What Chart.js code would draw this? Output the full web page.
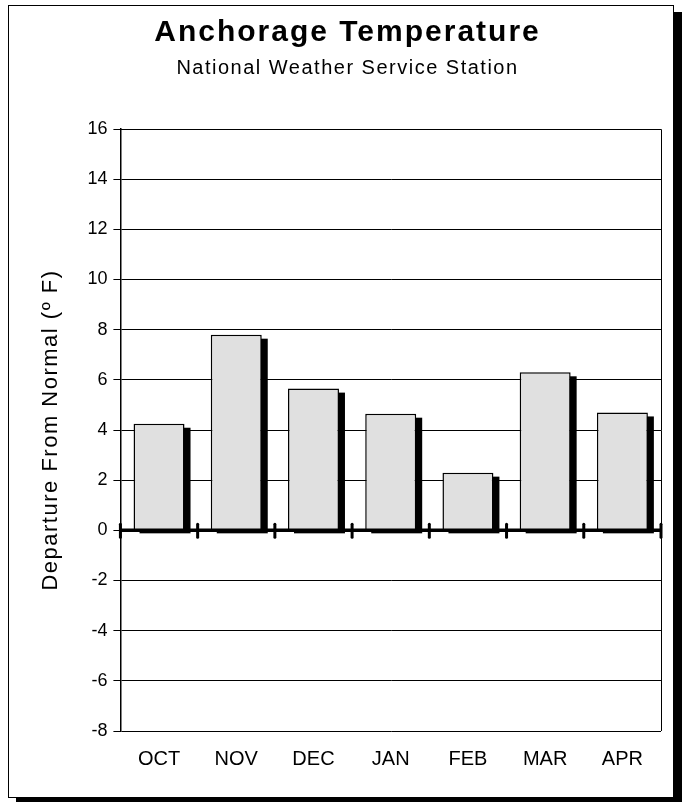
<!DOCTYPE html>
<html>
<head>
<meta charset="utf-8">
<script src="https://cdn.jsdelivr.net/npm/chart.js@4.4.1/dist/chart.umd.min.js"></script>
<style>
  html, body { margin: 0; padding: 0; background: #fff; }
  #frame {
    position: absolute; left: 8px; top: 5px;
    width: 664px; height: 791px;
    border: 1.5px solid #000;
    box-shadow: 8px 7px 0 #000;
    background: #fff;
  }
  #wrap { position: absolute; left: -8px; top: -5px; width: 686px; height: 802px; }
</style>
</head>
<body>
<div id="frame"><div id="wrap"><canvas id="tempChart"></canvas></div></div>
<script>
const months = ['OCT', 'NOV', 'DEC', 'JAN', 'FEB', 'MAR', 'APR'];
const departures = [4.25, 7.8, 5.65, 4.65, 2.3, 6.3, 4.7];
const yMin = -8;
const yMax = 16;
const yStep = 2;

const FONT = "'Liberation Sans', Arial, sans-serif";

// slightly wider letter spacing like the old Excel rendering (titles only)
function spaced(fn, spacing) {
    return function () {
        const c = this.ctx;
        c.save();
        c.letterSpacing = spacing;
        fn.apply(this, arguments);
        c.restore();
    };
}

// black drop shadow behind each bar, thick zero line with category ticks, plot box
const excelStyle = {
    id: 'excelStyle',
    afterLayout(chart) {
        chart.boxes.forEach(box => {
            if (box._spaced || !box.options || typeof box.options.text !== 'string' || box.axis) return;
            box.draw = spaced(box.draw, box.options.text === 'Anchorage Temperature' ? '2px' : '1.5px');
            box._spaced = true;
        });
        const y = chart.scales.y;
        if (y && !y._spaced) {
            y.drawTitle = spaced(y.drawTitle, '1.5px');
            y._spaced = true;
        }
    },
    beforeDatasetsDraw(chart) {
        const ctx = chart.ctx;
        const y = chart.scales.y;
        const zero = y.getPixelForValue(0);
        ctx.save();
        ctx.fillStyle = '#000';
        chart.getDatasetMeta(0).data.forEach(bar => {
            const half = bar.width / 2;
            ctx.fillRect(bar.x + half - 1, bar.y + 4, 7, zero - bar.y - 4);
            ctx.fillRect(bar.x - half + 6, zero - 1, bar.width, 4);
        });
        ctx.restore();
    },
    afterDatasetsDraw(chart) {
        const ctx = chart.ctx;
        const area = chart.chartArea;
        const x = chart.scales.x;
        const zero = chart.scales.y.getPixelForValue(0);
        ctx.save();
        ctx.strokeStyle = '#000';
        ctx.lineWidth = 1;
        ctx.beginPath();
        ctx.moveTo(area.left, area.top + 0.5);
        ctx.lineTo(area.right + 0.5, area.top + 0.5);
        ctx.lineTo(area.right + 0.5, area.bottom);
        ctx.stroke();
        ctx.lineWidth = 3.5;
        ctx.beginPath();
        ctx.moveTo(area.left, zero);
        ctx.lineTo(area.right, zero);
        ctx.stroke();
        ctx.lineCap = 'round';
        ctx.lineWidth = 3;
        for (let i = 0; i <= months.length; i++) {
            const px = x.getPixelForValue(i - 0.5);
            ctx.beginPath();
            ctx.moveTo(px, zero - 6);
            ctx.lineTo(px, zero + 7);
            ctx.stroke();
        }
        ctx.restore();
    }
};

const ctx = document.getElementById('tempChart').getContext('2d');
const tempChart = new Chart(ctx, {
    type: 'bar',
    data: {
        labels: months,
        datasets: [{
            label: 'Departure',
            data: departures,
            backgroundColor: '#e0e0e0',
            borderColor: '#000',
            borderWidth: 1.5,
            barPercentage: 0.66,
            categoryPercentage: 1.0
        }]
    },
    options: {
        responsive: true,
        maintainAspectRatio: false,
        animation: false,
        layout: { padding: { left: 33, right: 26, top: 10, bottom: 24 } },
        plugins: {
            legend: { display: false },
            tooltip: { enabled: false },
            title: {
                display: true,
                text: 'Anchorage Temperature',
                color: '#000',
                font: { family: FONT, size: 30, weight: 'bold' },
                padding: { top: 4, bottom: 5 }
            },
            subtitle: {
                display: true,
                text: 'National Weather Service Station',
                color: '#000',
                font: { family: FONT, size: 20 },
                padding: { top: 0, bottom: 49 }
            }
        },
        scales: {
            x: {
                grid: { display: false },
                border: { display: false },
                ticks: {
                    color: '#000',
                    padding: 8,
                    font: { family: FONT, size: 20 }
                }
            },
            y: {
                min: yMin,
                max: yMax,
                ticks: {
                    stepSize: yStep,
                    color: '#000',
                    padding: 6,
                    font: { family: FONT, size: 18 }
                },
                grid: { color: '#000', lineWidth: 1, tickLength: 7 },
                border: { color: '#000', width: 1.5 },
                title: {
                    display: true,
                    text: 'Departure From Normal (º F)',
                    color: '#000',
                    font: { family: FONT, size: 22 },
                    padding: { top: 4, bottom: 17 }
                }
            }
        }
    },
    plugins: [excelStyle]
});
</script>
</body>
</html>
